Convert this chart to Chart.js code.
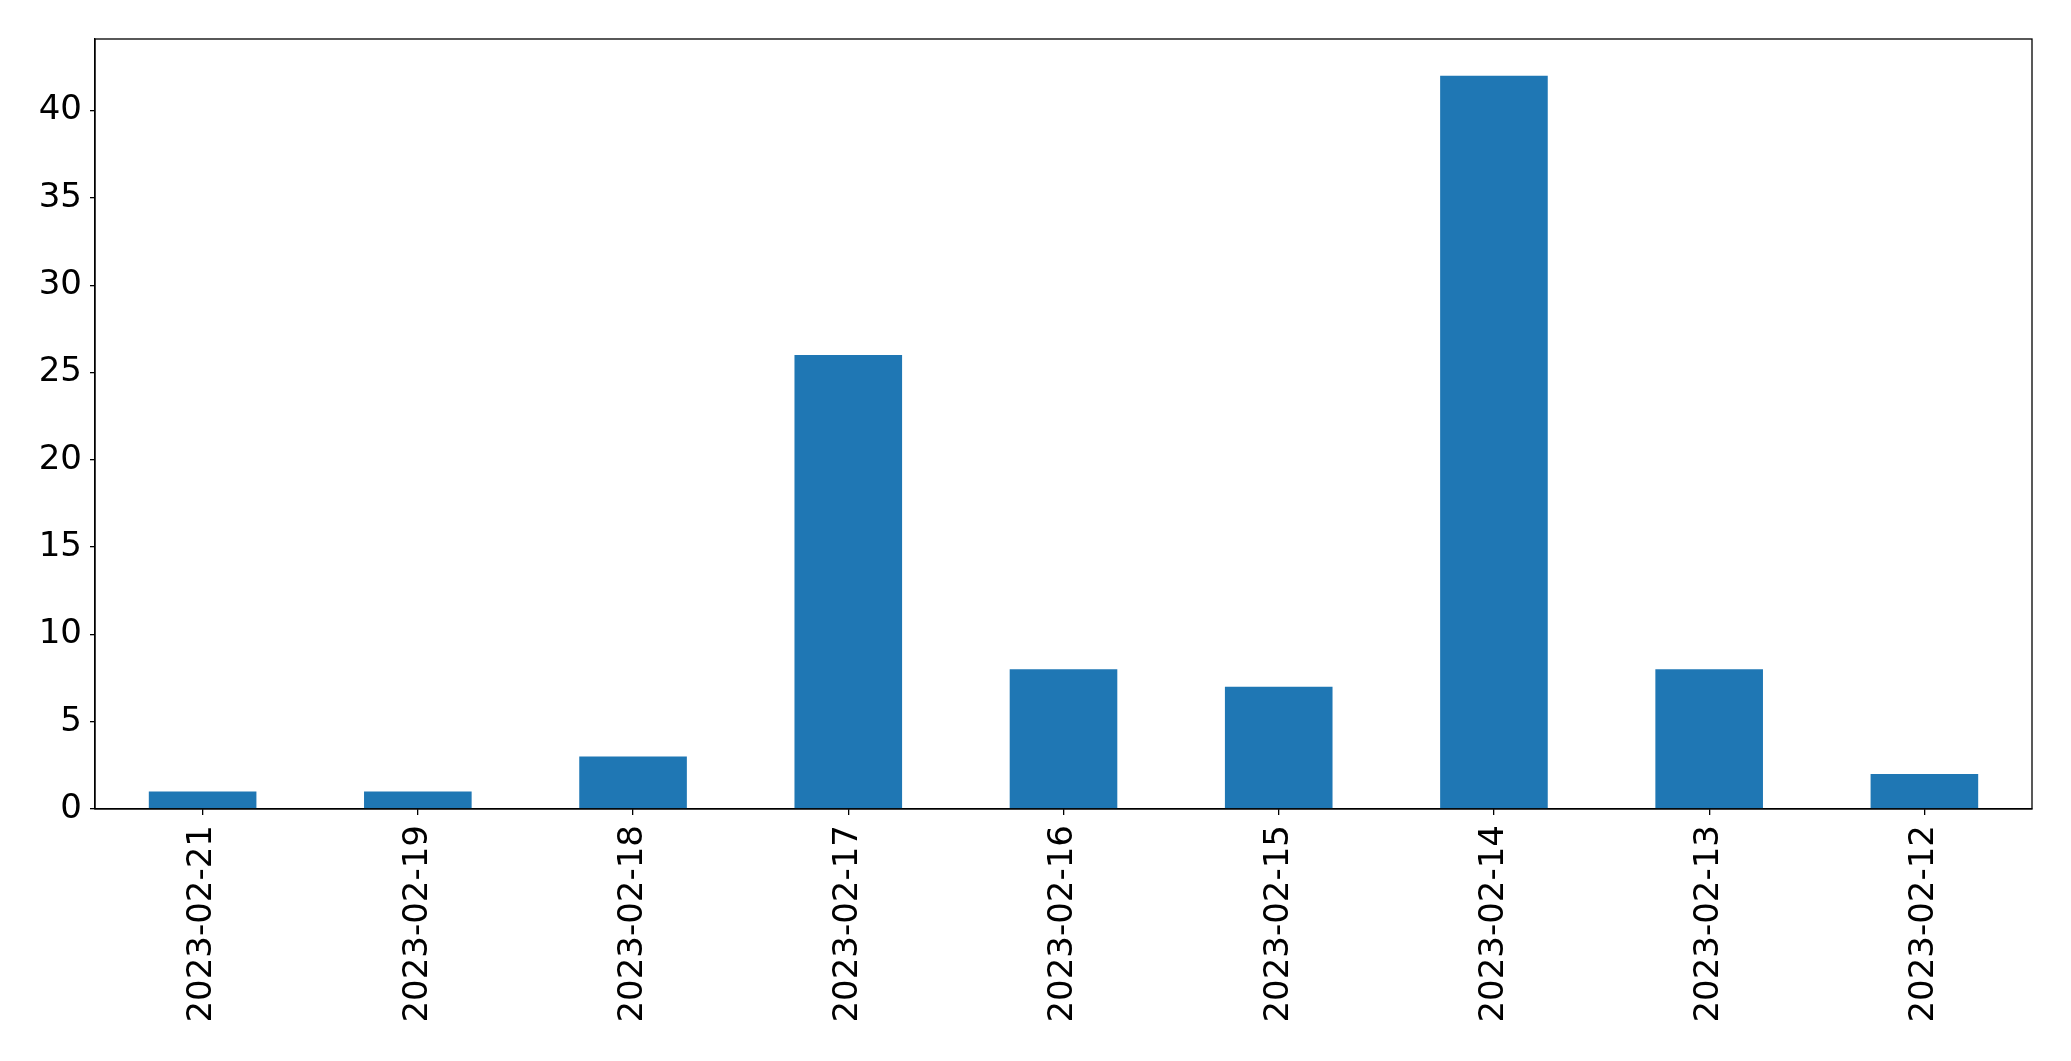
<!DOCTYPE html>
<html>
<head>
<meta charset="utf-8">
<script src="https://cdn.jsdelivr.net/npm/chart.js@4/dist/chart.umd.min.js"></script>
<style>
    body { margin: 0; padding: 0; overflow: hidden; background: #fff; }
    #chartWrap { width: 2071px; height: 1061px; }
</style>
</head>
<body>
<div id="chartWrap"><canvas id="chartCanvas"></canvas></div>
<script>
// Data
const dates = ['2023-02-21', '2023-02-19', '2023-02-18', '2023-02-17', '2023-02-16',
    '2023-02-15', '2023-02-14', '2023-02-13', '2023-02-12'];
const counts = [1, 1, 3, 26, 8, 7, 42, 8, 2];
const yTickStep = 5;

const barColor = '#1f77b4';
const tickFont = { family: 'DejaVu Sans', size: 34 };

// Draw the full box around the plot area (matplotlib style)
const frame = {
    id: 'frame',
    afterDraw: (chart) => {
        const { ctx, chartArea } = chart;
        ctx.save();
        ctx.strokeStyle = '#000';
        ctx.lineWidth = 1.3;
        ctx.strokeRect(chartArea.left, chartArea.top,
            chartArea.right - chartArea.left, chartArea.bottom - chartArea.top);
        ctx.restore();
    },
};

const ctx = document.getElementById('chartCanvas').getContext('2d');
new Chart(ctx, {
    type: 'bar',
    data: {
        labels: dates,
        datasets: [{
            data: counts,
            backgroundColor: barColor,
            borderWidth: 0,
            barPercentage: 0.5,
            categoryPercentage: 1,
        }],
    },
    options: {
        responsive: true,
        maintainAspectRatio: false,
        animation: false,
        layout: { padding: { top: 39, right: 39, left: 0, bottom: 0 } },
        plugins: {
            legend: { display: false },
            tooltip: { enabled: false },
        },
        scales: {
            x: {
                offset: true,
                grid: { display: true, offset: false, drawOnChartArea: false, drawTicks: true, tickLength: 6, color: '#000', lineWidth: 1.3 },
                border: { display: true, color: '#000', width: 1.3 },
                ticks: {
                    color: '#000',
                    font: tickFont,
                    minRotation: 90,
                    maxRotation: 90,
                    padding: 10,
                    autoSkip: false,
                },
                afterFit: (scale) => { scale.height = 252; },
            },
            y: {
                min: 0,
                max: Math.max(...counts) * 1.05,
                grid: { display: true, drawOnChartArea: false, drawTicks: true, tickLength: 5, color: '#000', lineWidth: 1.3 },
                border: { display: true, color: '#000', width: 1.3 },
                ticks: {
                    color: '#000',
                    font: tickFont,
                    stepSize: yTickStep,
                    includeBounds: false,
                    padding: 8,
                },
                afterFit: (scale) => { scale.width = 95; },
            },
        },
    },
    plugins: [frame],
});
</script>
</body>
</html>
